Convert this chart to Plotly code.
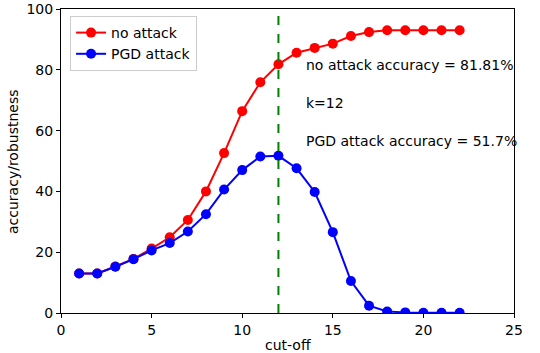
import plotly.graph_objects as go

cutoff = list(range(1, 23))
no_attack = [13, 13, 15.3, 17.8, 21.2, 24.9, 30.6, 40.0, 52.6, 66.4, 75.9, 81.81,
             85.6, 87.2, 88.6, 91.1, 92.4, 93.0, 93.0, 93.0, 93.0, 93.0]
pgd_attack = [13, 13, 15.2, 17.7, 20.6, 23.0, 26.8, 32.5, 40.6, 47.0, 51.5, 51.7,
              47.6, 39.8, 26.6, 10.5, 2.4, 0.5, 0.2, 0.1, 0.1, 0.1]
k = 12
x_ticks = [0, 5, 10, 15, 20, 25]
y_ticks = [0, 20, 40, 60, 80, 100]

fig = go.Figure()
fig.add_trace(go.Scatter(x=cutoff, y=no_attack, mode="lines+markers", name="no attack",
                         line=dict(color="red", width=2), marker=dict(color="red", size=10)))
fig.add_trace(go.Scatter(x=cutoff, y=pgd_attack, mode="lines+markers", name="PGD attack",
                         line=dict(color="blue", width=2), marker=dict(color="blue", size=10)))
fig.add_shape(type="line", x0=k, x1=k, y0=0, y1=100, xref="x", yref="y",
              line=dict(color="green", width=2, dash="dash"))

for txt, yv in [("no attack accuracy = 81.81%", 81.6), ("k=12", 69.2), ("PGD attack accuracy = 51.7%", 56.7)]:
    fig.add_annotation(x=13.55, y=yv, text=txt, showarrow=False, xanchor="left", yanchor="middle",
                       xshift=-3, font=dict(size=14, color="black", family="DejaVu Sans"))

# axis titles as annotations for precise placement
fig.add_annotation(x=0.5, y=-0.104, xref="paper", yref="paper", text="cut-off", showarrow=False,
                   xanchor="center", yanchor="middle", font=dict(size=14, color="black"))
fig.add_annotation(x=-0.106, y=0.5, xref="paper", yref="paper", text="accuracy/robustness",
                   showarrow=False, textangle=-90, xanchor="center", yanchor="middle",
                   font=dict(size=14, color="black"))

axis_common = dict(showline=True, linecolor="black", linewidth=1, mirror=True, ticks="outside",
                   ticklen=4, tickcolor="black", showgrid=False, zeroline=False, automargin=False,
                   tickfont=dict(size=14, color="black"))
fig.update_xaxes(range=[0, 25], tickvals=x_ticks, **axis_common)
fig.update_yaxes(range=[0, 100], tickvals=y_ticks, **axis_common)

fig.update_layout(width=540, height=353, margin=dict(l=61, r=26, t=9, b=40),
                  plot_bgcolor="white", paper_bgcolor="white",
                  font=dict(family="DejaVu Sans", size=14, color="black"),
                  legend=dict(x=0.02, y=0.977, xanchor="left", yanchor="top",
                              bgcolor="rgba(255,255,255,0.8)", bordercolor="#cccccc", borderwidth=1,
                              font=dict(size=14), itemwidth=30, tracegroupgap=0))
fig.write_html("out.html", config={"displayModeBar": False},
               post_script="document.body.style.margin='0';")
